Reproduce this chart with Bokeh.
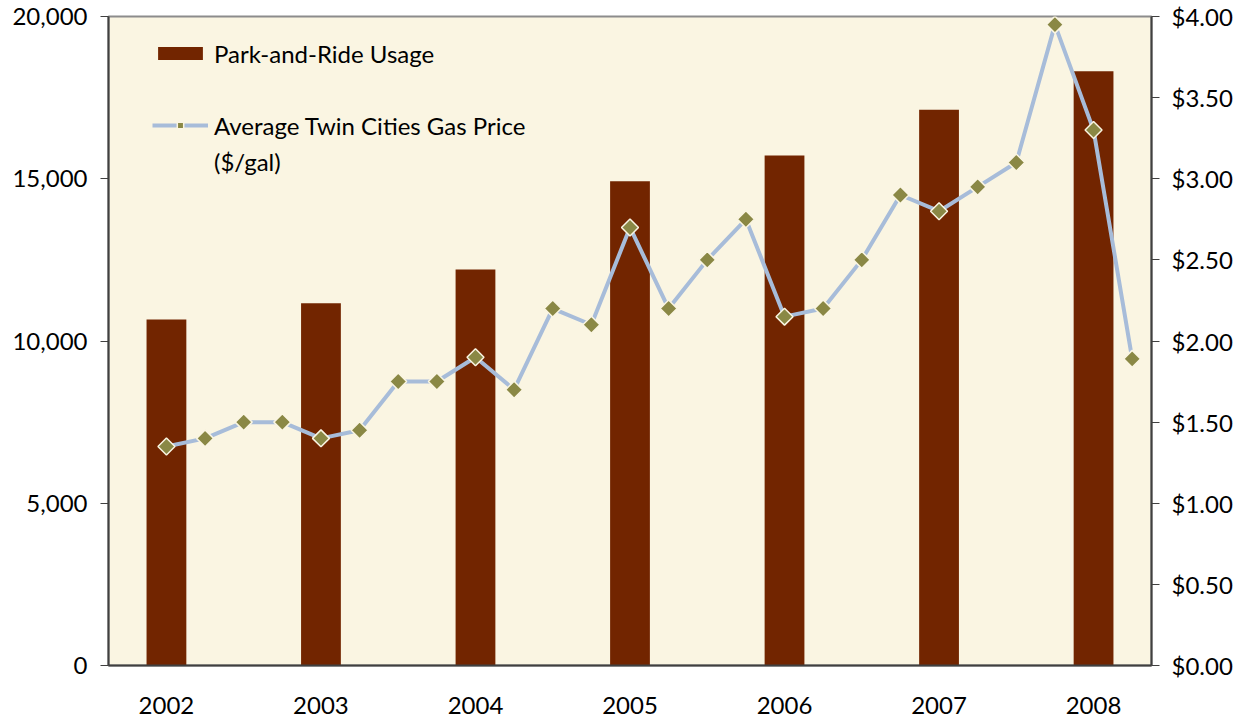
import math
from bokeh.plotting import figure
from bokeh.models import (ColumnDataSource, LinearAxis, Range1d, FixedTicker,
                          NumeralTickFormatter, Legend, LegendItem)
from bokeh.embed import file_html
from bokeh.resources import INLINE

# ---- data ----
years = ["2002", "2003", "2004", "2005", "2006", "2007", "2008"]
park_ride = [10660, 11160, 12200, 14920, 15720, 17130, 18310]
quarters_per_year = 4
gas_price = [1.35, 1.40, 1.50, 1.50, 1.40, 1.45, 1.75, 1.75, 1.90, 1.70,
             2.20, 2.10, 2.70, 2.20, 2.50, 2.75, 2.15, 2.20, 2.50, 2.90,
             2.80, 2.95, 3.10, 3.95, 3.30, 1.89]
gas_ticks = [0, 0.5, 1.0, 1.5, 2.0, 2.5, 3.0, 3.5, 4.0]
usage_ticks = [0, 5000, 10000, 15000, 20000]

BG = "#FAF5E2"
BAR = "#722500"
LINE = "#A7BCD9"
MARK = "#8A8845"
FONT = "Lato"
FS = "24px"
LFS = "24px"

bar_x = [i * quarters_per_year for i in range(len(years))]
gas_x = list(range(len(gas_price)))

p = figure(width=1235, height=719, output_backend="svg", toolbar_location=None,
           x_range=Range1d(-1.5, 25.5), y_range=Range1d(0, 20000),
           min_border_left=108, min_border_right=83, min_border_top=16,
           min_border_bottom=54)
p.background_fill_color = BG
p.border_fill_color = "white"
p.outline_line_color = "#8C8C8C"
p.outline_line_width = 2
p.grid.visible = False

p.extra_y_ranges = {"gas": Range1d(0, 4)}

bars = p.vbar(x=bar_x, top=park_ride, width=1.03, fill_color=BAR, line_color=None)
src = ColumnDataSource(dict(x=gas_x, y=gas_price))
ln = p.line("x", "y", source=src, y_range_name="gas", line_color=LINE, line_width=4)
pts = p.scatter("x", "y", source=src, y_range_name="gas", marker="square", size=12,
                angle=math.pi / 4, fill_color=MARK, line_color=BG, line_width=1.5)

# dummy renderer for legend spacing / second label line
blank = p.scatter(x=[], y=[], marker="square", fill_alpha=0, line_alpha=0)

# axes
xa = p.xaxis[0]
xa.ticker = FixedTicker(ticks=bar_x)
xa.major_label_overrides = {bx: y for bx, y in zip(bar_x, years)}
xa.major_tick_line_color = None
xa.minor_tick_line_color = None
xa.axis_line_color = "#404040"
xa.axis_line_width = 2
xa.major_label_standoff = 25
xa.major_label_text_font = FONT
xa.major_label_text_font_size = FS
xa.major_label_text_color = "black"

ya = p.yaxis[0]
ya.ticker = FixedTicker(ticks=usage_ticks)
ya.formatter = NumeralTickFormatter(format="0,0")
ya.axis_line_color = "#404040"
ya.axis_line_width = 2
ya.major_tick_line_color = "#404040"
ya.major_tick_out = 8
ya.major_tick_in = 0
ya.minor_tick_line_color = None
ya.major_label_standoff = 13
ya.major_label_text_font = FONT
ya.major_label_text_font_size = FS
ya.major_label_text_color = "black"

ra = LinearAxis(y_range_name="gas", ticker=FixedTicker(ticks=gas_ticks),
                formatter=NumeralTickFormatter(format="$0.00"))
ra.axis_line_color = "#404040"
ra.axis_line_width = 2
ra.major_tick_line_color = "#404040"
ra.major_tick_out = 8
ra.major_tick_in = 0
ra.minor_tick_line_color = None
ra.major_label_standoff = 12
ra.major_label_text_font = FONT
ra.major_label_text_font_size = FS
ra.major_label_text_color = "black"
p.add_layout(ra, "right")

legend = Legend(items=[
    LegendItem(label="Park-and-Ride Usage", renderers=[bars]),
    LegendItem(label=" ", renderers=[blank]),
    LegendItem(label="Average Twin Cities Gas Price", renderers=[ln, pts]),
    LegendItem(label="($/gal)", renderers=[blank]),
], location=(44, 486))
legend.background_fill_alpha = 0
legend.border_line_color = None
legend.padding = 0
legend.margin = 0
legend.spacing = 0
legend.glyph_width = 56
legend.glyph_height = 16
legend.label_height = 36
legend.label_standoff = 6
legend.label_text_font = FONT
legend.label_text_font_size = LFS
legend.label_text_color = "black"
p.add_layout(legend)

open("out.html", "w").write(file_html(p, INLINE))
